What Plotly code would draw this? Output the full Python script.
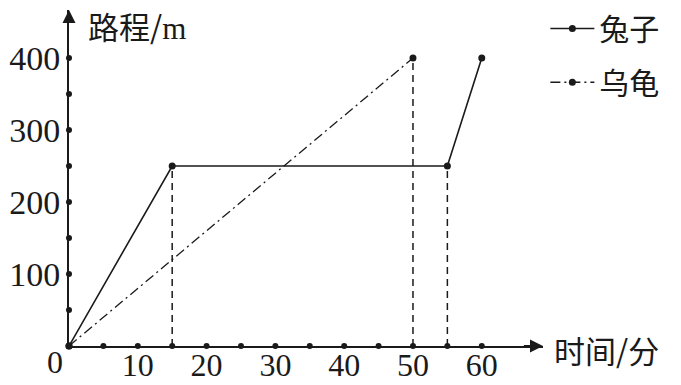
import plotly.graph_objects as go

# ---- data ----
rabbit_t = [0, 15, 55, 60]
rabbit_d = [0, 250, 250, 400]
tortoise_t = [0, 50]
tortoise_d = [0, 400]
x_tick_vals = [10, 20, 30, 40, 50, 60]
y_tick_vals = [100, 200, 300, 400]
x_dot_vals = [5, 10, 15, 20, 25, 30, 35, 40, 45, 50, 55, 60]
y_dot_vals = [50, 100, 150, 200, 250, 300, 350, 400]
guide_times = [15, 50, 55]

X_MAX = 68.9
Y_MAX = 466.7

num_font = dict(family="Liberation Serif, Times New Roman, serif", size=34, color="#1a1a1a")
xnum_font = dict(family="Liberation Serif, Times New Roman, serif", size=32, color="#1a1a1a")
cjk_font = dict(family="Noto Sans CJK SC, Noto Sans CJK JP, sans-serif", size=31, color="#1a1a1a")
leg_font = dict(family="Noto Sans CJK SC, Noto Sans CJK JP, sans-serif", size=30, color="#1a1a1a")

fig = go.Figure()

# dashed guide lines from the key points down to the time axis
def dist_at(t):
    ys = []
    for ts, ds in ((rabbit_t, rabbit_d), (tortoise_t, tortoise_d)):
        if t in ts:
            ys.append(ds[ts.index(t)])
    return max(ys)

for t in guide_times:
    fig.add_trace(go.Scatter(x=[t, t], y=[0, dist_at(t)], mode="lines",
                             line=dict(color="#1a1a1a", width=1.5, dash="7px,5px"),
                             showlegend=False, hoverinfo="skip", cliponaxis=False))

# axis dots
fig.add_trace(go.Scatter(x=x_dot_vals + [0] * len(y_dot_vals) + [0],
                         y=[0] * len(x_dot_vals) + y_dot_vals + [0],
                         mode="markers", marker=dict(color="#1a1a1a", size=6),
                         showlegend=False, hoverinfo="skip", cliponaxis=False))

fig.add_trace(go.Scatter(x=rabbit_t, y=rabbit_d, mode="lines+markers", name="兔子",
                         line=dict(color="#1a1a1a", width=1.6),
                         marker=dict(color="#1a1a1a", size=7),
                         legend="legend", cliponaxis=False))
fig.add_trace(go.Scatter(x=tortoise_t, y=tortoise_d, mode="lines+markers", name="乌龟",
                         line=dict(color="#1a1a1a", width=1.3, dash="10px,4px,2px,4px"),
                         marker=dict(color="#1a1a1a", size=7),
                         legend="legend2", cliponaxis=False))

fig.update_xaxes(range=[0, X_MAX], showline=True, linecolor="#1a1a1a", linewidth=2,
                 showgrid=False, zeroline=False, ticks="", tickvals=x_tick_vals,
                 tickfont=xnum_font, automargin=False, ticklabelstandoff=-10)
fig.update_yaxes(range=[0, Y_MAX], showline=True, linecolor="#1a1a1a", linewidth=2,
                 showgrid=False, zeroline=False, ticks="", tickvals=y_tick_vals,
                 tickfont=num_font, automargin=False, ticklabelstandoff=0)

# arrow heads on the axes
fig.add_annotation(x=X_MAX, y=0, ax=X_MAX - 3, ay=0, xref="x", yref="y", axref="x", ayref="y",
                   text="", showarrow=True, arrowhead=2, arrowsize=1.3, arrowwidth=2,
                   arrowcolor="#1a1a1a")
fig.add_annotation(x=0, y=Y_MAX, ax=0, ay=Y_MAX - 20, xref="x", yref="y", axref="x", ayref="y",
                   text="", showarrow=True, arrowhead=2, arrowsize=1.3, arrowwidth=2,
                   arrowcolor="#1a1a1a")

# origin label and axis titles
fig.add_annotation(x=0, y=0, xref="x", yref="y", text="0", showarrow=False,
                   xanchor="right", yanchor="middle", xshift=-4, yshift=-16, font=xnum_font)
fig.add_annotation(x=0, y=Y_MAX, xref="x", yref="y",
                   text="路程/<span style=\"font-family:Liberation Serif\">m</span>",
                   showarrow=False, xanchor="left", yanchor="middle", xshift=17, yshift=-15,
                   font=cjk_font)
fig.add_annotation(x=X_MAX, y=0, xref="x", yref="y", text="时间/分", showarrow=False,
                   xanchor="left", yanchor="middle", xshift=9, yshift=-3, font=cjk_font)

legend_common = dict(font=leg_font, bgcolor="rgba(0,0,0,0)", xanchor="left",
                     yanchor="middle", itemwidth=44)
fig.update_layout(
    width=681, height=385,
    margin=dict(l=69, r=138, t=10, b=39, autoexpand=False),
    plot_bgcolor="white", paper_bgcolor="white",
    legend=dict(x=1.005, y=0.945, **legend_common),
    legend2=dict(x=1.005, y=0.785, **legend_common),
)

fig.write_html("out.html", config={"displayModeBar": False},
               post_script="document.body.style.margin='0';document.body.style.padding='0';")
